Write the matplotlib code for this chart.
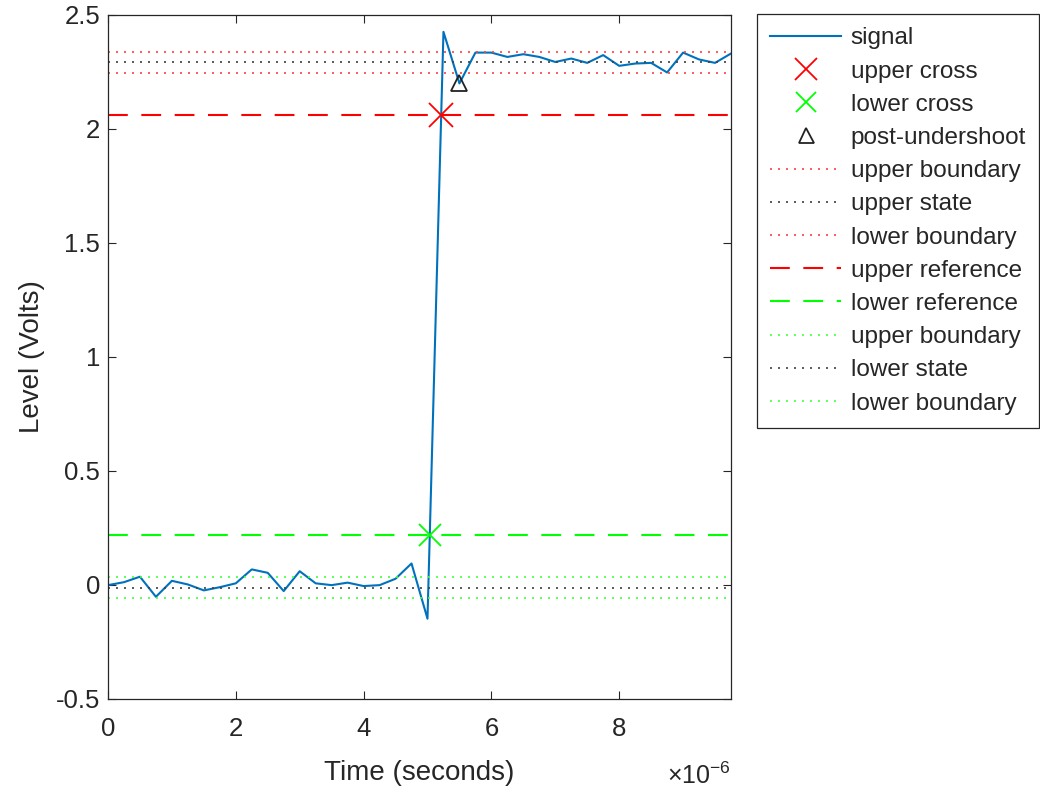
import matplotlib
matplotlib.use("Agg")
import matplotlib.pyplot as plt
import numpy as np
from matplotlib.ticker import FixedLocator, FuncFormatter

plt.rcParams['font.family'] = ['Liberation Sans', 'DejaVu Sans']
plt.rcParams['mathtext.fontset'] = 'custom'
plt.rcParams['mathtext.rm'] = 'Liberation Sans'
plt.rcParams['mathtext.it'] = 'Liberation Sans'
plt.rcParams['axes.unicode_minus'] = False

# sample times (microseconds) and signal levels (volts)
t_us = [0.0, 0.25, 0.5, 0.75, 1.0, 1.25, 1.5, 1.75, 2.0, 2.25,
        2.5, 2.75, 3.0, 3.25, 3.5, 3.75, 4.0, 4.25, 4.5, 4.75,
        5.0, 5.25, 5.5, 5.75, 6.0, 6.25, 6.5, 6.75, 7.0, 7.25,
        7.5, 7.75, 8.0, 8.25, 8.5, 8.75, 9.0, 9.25, 9.5, 9.75]
signal = [-0.001, 0.012, 0.036, -0.052, 0.018, 0.002, -0.024, -0.010, 0.007, 0.068,
          0.053, -0.027, 0.060, 0.007, -0.001, 0.010, -0.005, -0.001, 0.027, 0.094,
          -0.148, 2.424, 2.198, 2.333, 2.333, 2.314, 2.326, 2.314, 2.292, 2.307,
          2.288, 2.322, 2.275, 2.285, 2.288, 2.246, 2.333, 2.303, 2.288, 2.329]

# crossings and undershoot (time in us, level in V)
upper_cross = (5.205, 2.059)
lower_cross = (5.036, 0.219)
post_undershoot = (5.5, 2.198)

# horizontal levels
level_names = ['upper boundary', 'upper state', 'lower boundary', 'upper reference',
               'lower reference', 'upper boundary', 'lower state', 'lower boundary']
level_vals = [2.336, 2.290, 2.244, 2.059, 0.219, 0.034, -0.012, -0.058]
level_cols = ['#ff4040', '#404040', '#ff4040', '#ff0000',
              '#00ff00', '#40ff40', '#404040', '#40ff40']
level_kind = ['dot', 'dot', 'dot', 'dash', 'dash', 'dot', 'dot', 'dot']

xticks_us = [0, 2, 4, 6, 8]
yticks = [-0.5, 0, 0.5, 1, 1.5, 2, 2.5]

txt = (0.15, 0.15, 0.15)

fig = plt.figure(figsize=(10.4, 7.87), dpi=100)
ax = fig.add_axes([108/1040, 1 - 699/787, (731-108)/1040, (699-14.5)/787])

ax.plot(t_us, signal, color='#0072BD', lw=1.5, label='signal')
ax.plot(upper_cross[0], upper_cross[1], 'x', color='red', ms=17, mew=1.3,
        label='upper cross')
ax.plot(lower_cross[0], lower_cross[1], 'x', color='#00ff00', ms=16, mew=1.3,
        label='lower cross')
ax.plot(post_undershoot[0], post_undershoot[1], '^', mfc='none', mec='#222222',
        ms=12, mew=1.3, label='post-undershoot')

for name, v, c, k in zip(level_names, level_vals, level_cols, level_kind):
    if k == 'dash':
        ls = (0, (9.5, 6.5))
        lw = 1.5
    else:
        ls = (0, (1.2, 3.6))
        lw = 1.2
    ax.axhline(v, color=c, lw=lw, linestyle=ls, label=name)

ax.set_xlim(0, 9.75)
ax.set_ylim(-0.5, 2.5)
ax.xaxis.set_major_locator(FixedLocator(xticks_us))
ax.xaxis.set_major_formatter(FuncFormatter(lambda v, p: '%g' % v))
ax.set_yticks(yticks)
ax.yaxis.set_major_formatter(FuncFormatter(lambda v, p: '%g' % v))

ax.tick_params(direction='in', length=6, width=0.8, top=True, right=True,
               labelsize=18.5, colors=txt)
ax.tick_params(axis='x', pad=13)
ax.tick_params(axis='y', pad=5.5)
for s in ax.spines.values():
    s.set_color(txt)
    s.set_linewidth(0.9)

ax.set_xlabel('Time (seconds)', fontsize=20, color=txt, labelpad=14)
ax.set_ylabel('Level (Volts)', fontsize=20, color=txt, labelpad=8)
ax.text(1.0, -0.112, r'$\times10^{-6}$', transform=ax.transAxes, ha='right',
        va='center', fontsize=18, color=txt)

leg = ax.legend(loc='upper left', bbox_to_anchor=(757/1040, 1 - 14/787),
                bbox_transform=fig.transFigure, borderaxespad=0, fontsize=17.5,
                handlelength=2.9, handletextpad=0.4, labelspacing=0.46,
                fancybox=False, framealpha=1, edgecolor=txt, borderpad=0.55,
                markerscale=0.9)
leg.get_frame().set_linewidth(0.9)
for tx in leg.get_texts():
    tx.set_color(txt)

fig.savefig('out.png', dpi=100)
